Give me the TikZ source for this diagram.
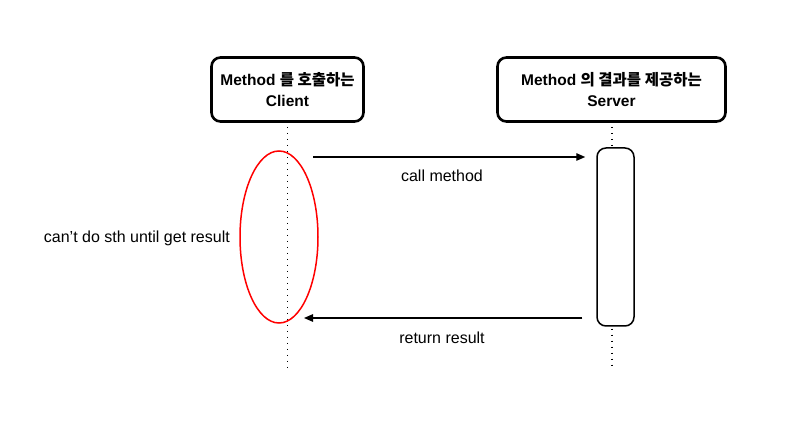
\documentclass[tikz,border=0pt]{standalone}
\usepackage{fontspec}
\setmainfont{Liberation Sans}
\newfontfamily\kr{Noto Sans CJK KR}
\usetikzlibrary{arrows.meta,shapes.geometric}
\tikzset{
  actor/.style={draw, line width=2.6pt, rounded corners=9pt, align=center, font=\fontsize{15.5}{21}\selectfont\bfseries, inner sep=0pt},
  act/.style={draw, line width=1.5pt, rounded corners=9pt, inner sep=0pt},
  life/.style={line width=1.8pt, dash pattern=on 1.6pt off 4.4pt},
  msg/.style={line width=1.3pt, -{Triangle[length=9pt,width=7.5pt]}},
  lbl/.style={font=\fontsize{16}{19}\selectfont},
}
\begin{document}
\begin{tikzpicture}[x=1pt,y=-1pt]
\useasboundingbox (0,0) rectangle (788,427);
\node[actor, minimum width=152pt, minimum height=64pt] (client) at (287.5,89.5) {Method {\kr 를 호출하는}\\Client};
\node[actor, minimum width=228pt, minimum height=64pt] (server) at (611.5,89.5) {Method {\kr 의 결과를 제공하는}\\Server};
\node[act, minimum width=37pt, minimum height=178pt] (actbox) at (615.5,237) {};
\coordinate (cend) at (287.5,370);
\coordinate (send) at (612,370);
\draw[life] (client.south) ++(0,4) -- (cend);
\draw[life] (server.south) ++(0.5,4) -- (actbox.north -| send);
\draw[life] (actbox.south -| send) ++(0,2) -- (send);
\coordinate (c1) at (313,157);
\coordinate (c2) at (304,318);
\draw[msg, shorten >=11pt] (c1) -- (c1 -| actbox.west);
\draw[msg, shorten <=14pt] (c2 -| actbox.west) -- (c2);
\node[lbl] (callm) at (442,176) {call method};
\node[lbl] (retr) at (442,338) {return result};
\node[draw=red, line width=1.5pt, ellipse, minimum width=78pt, minimum height=172pt, inner sep=0pt] (block) at (279,237) {};
\node[lbl, anchor=east, inner sep=0pt] (note) at (230,238) {can’t do sth until get result};
\end{tikzpicture}
\end{document}
